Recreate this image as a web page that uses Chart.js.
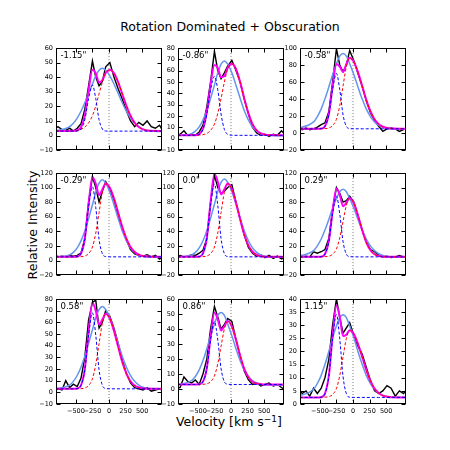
<!DOCTYPE html>
<html lang="en">
<head>
  <meta charset="UTF-8" />
  <title>Rotation Dominated + Obscuration</title>
  <script src="https://cdn.jsdelivr.net/npm/chart.js"></script>
  <style>
    body { margin: 0; background: #fff; font-family: 'DejaVu Sans', sans-serif; color: #000; }
    #fig { position: relative; width: 450px; height: 450px; overflow: hidden; }
    .panel { position: absolute; }
    .title { position: absolute; left: 0; top: 21px; width: 460px; text-align: center; font-size: 12.5px; line-height: 1; }
    .xlabel { position: absolute; left: 0; top: 416px; width: 458px; text-align: center; font-size: 12.5px; line-height: 1; }
    .xlabel span { position: relative; top: -4px; font-size: 9px; }
    .ylabel { position: absolute; left: -67px; top: 218px; width: 200px; height: 14px; line-height: 14px; text-align: center; font-size: 12.5px; transform: rotate(-90deg); }
  </style>
</head>
<body>
  <div id="fig">
    <div class="title">Rotation Dominated + Obscuration</div>
    <div class="ylabel">Relative Intensity</div>
    <div class="xlabel">Velocity [km s<span>&minus;1</span>]</div>
  </div>

  <script>
    // velocity sampling of the model curves and of the observed spectra (km/s)
    const velocityGrid = [-883, -595, -538, -480, -423, -365, -308, -250, -200, -150, -100, -50, 13, 75, 138, 200, 263, 325, 388, 450, 513, 575, 1013];
    const obsVelocity = [-883, -825, -768, -710, -653, -595, -538, -480, -423, -365, -308, -250, -200, -150, -100, -50, 13,
                         75, 138, 200, 263, 325, 388, 450, 513, 575, 638, 700, 763, 825, 888, 950, 1013];

    const panelLabels = ['-1.15"', '-0.86"', '-0.58"', '-0.29"', '0.0"', '0.29"', '0.58"', '0.86"', '1.15"'];
    const yMin  = [-10, -10, -20, -20, -20, -20, -10, -10, 0];
    const yMax  = [60, 80, 100, 120, 120, 120, 80, 60, 40];
    const yStep = [10, 10, 20, 20, 20, 20, 10, 10, 5];
    const xTicks = [-500, -250, 0, 250, 500];

    // observed spectra (black)
    const observed = [
      [3, 5, 6, 4, 3.5, 5, 3, 5, 8, 18, 34, 51, 40, 34, 37, 47, 50, 40, 32, 25, 17, 10, 6, 9, 7, 10, 6, 5, 7, 2, 6, 0, 4],
      [3, 2, 4, 7, 3, 4, 3, 6, 12, 28, 50, 77, 60, 53, 58, 64, 69, 60, 50, 35, 22, 10, 5, 3, 4, 2, 4, 3, 7, 3, 4, 2, 3],
      [8, 6, 4, 6, 4, 5, 7, 10, 12, 25, 60, 99, 80, 72, 80, 97, 85, 70, 55, 38, 24, 15, 8, 2, 5, 6, 5, 2, 4, 6, -2, 10, 5],
      [6, 8, 5, 6, 5, 7, 6, 7, 10, 30, 80, 115, 100, 80, 95, 108, 98, 83, 62, 45, 28, 15, 9, 7, 6, 8, 5, 7, 2, 6, 4, 7, 5],
      [4, 5, 7, 5, 6, 8, 7, 10, 14, 30, 80, 117, 100, 92, 95, 100, 104, 80, 57, 35, 18, 10, 6, 8, 4, 7, 3, 6, 2, 5, 3, 5, 4],
      [0, 3, 5, 6, 5, 12, 10, 12, 15, 30, 70, 100, 92, 80, 82, 88, 80, 62, 42, 26, 15, 12, 7, 5, 6, 4, 5, 7, 5, 3, 6, 5, 4],
      [3, 1, 3, 2, 10, 4, 7, 5, 12, 30, 62, 77, 79, 55, 60, 70, 65, 55, 42, 28, 16, 8, 4, 3, 2, 4, 1, 2, 3, 1, 5, 2, 1],
      [2, 0, 1, 8, 5, 4, 6, 3, 10, 20, 40, 55, 48, 40, 43, 47, 45, 33, 22, 12, 6, 3, 4, 2, 3, 4, 2, 3, 1, -1, 2, 3, 3],
      [3, 6, 4, 5, 3, 6, 4, 6, 10, 17, 30, 40, 33, 27, 29, 31, 26, 22, 19, 14, 9, 5, 4, 5, 7, 6, 3, 5, 4, 6, 3, 4, 2]
    ];

    // two-component fit (magenta)
    const twoComponentFit = [
      [3, 3.1, 3.2, 3.6, 5.6, 13.6, 31, 45, 42.6, 36.3, 38, 42.8, 45, 42.7, 36.6, 28.5, 20.3, 13.5, 8.7, 5.8, 4.2, 3.5, 3],
      [3, 3, 3.1, 4.1, 8.8, 23.4, 47.7, 64.9, 62.6, 54.1, 55.1, 62.4, 66.1, 61.5, 49.9, 35.4, 22.3, 12.9, 7.4, 4.7, 3.6, 3.2, 3],
      [5, 5, 5, 5.3, 8.1, 22.1, 54.7, 81.2, 78, 71.6, 81.1, 88.3, 83.5, 71.5, 55.4, 39.1, 25.7, 16.2, 10.5, 7.4, 5.9, 5.3, 5],
      [5, 5, 5, 5.4, 9.4, 30, 77.3, 114.5, 105.4, 89.6, 97.4, 105.4, 99.6, 85.1, 65.7, 46.1, 29.9, 18.5, 11.6, 7.9, 6.1, 5.4, 5],
      [5, 5, 5, 5.4, 9.6, 31, 80.1, 118.5, 108.2, 90.6, 97.6, 105.4, 97.9, 79.4, 56.4, 35.6, 20.7, 12, 7.7, 5.9, 5.3, 5.1, 5],
      [5, 5, 5, 5.3, 8.9, 26.6, 67.2, 98.8, 89.7, 74.3, 79.3, 85.3, 78.4, 61.6, 41.6, 24.9, 14.1, 8.5, 6.1, 5.3, 5, 5, 5],
      [3, 3, 3, 3.3, 6, 19.9, 51.8, 76.6, 69.8, 58, 62.3, 67.3, 63, 52.6, 39, 26, 16, 9.5, 5.8, 4.1, 3.4, 3.1, 3],
      [3, 3, 3, 3.2, 4.9, 14, 34.5, 50.7, 46.4, 39, 41.8, 45.2, 41.5, 32.7, 22.2, 13.5, 7.8, 4.8, 3.6, 3.2, 3, 3, 3],
      [2.5, 2.5, 2.5, 2.6, 4, 10.7, 25.9, 37.5, 33.1, 25.9, 26.4, 28.1, 26.6, 22.9, 18, 13, 8.8, 5.9, 4.2, 3.2, 2.8, 2.6, 2.5]
    ];

    // single-component fit (light blue)
    const oneComponentFit = [
      [2.6, 6, 8.4, 11.9, 16.6, 22.4, 28.9, 35.3, 40.9, 44.7, 46, 44.7, 40.9, 35.3, 28.9, 22.4, 16.6, 11.9, 8.4, 6, 4.4, 3.5, 2.5],
      [2.5, 4.5, 6.7, 10.4, 16.4, 24.9, 35.6, 47.2, 58, 65.7, 68.5, 65.7, 58, 47.2, 35.6, 24.9, 16.4, 10.4, 6.7, 4.5, 3.4, 2.8, 2.5],
      [4.7, 13.1, 19.4, 28.4, 40.2, 54.1, 68.6, 81.4, 90.3, 93.5, 90.3, 81.4, 68.6, 54.1, 40.2, 28.4, 19.4, 13.1, 9.1, 6.8, 5.6, 4.9, 4.5],
      [4.5, 7.7, 11.2, 17.2, 26.9, 40.4, 57.6, 76.4, 93.6, 106, 110.5, 106, 93.6, 76.4, 57.6, 40.4, 26.9, 17.2, 11.2, 7.7, 5.9, 5, 4.5],
      [4.5, 7.7, 11.2, 17.3, 27.1, 40.8, 58.1, 77, 94.5, 107, 111.5, 107, 94.5, 77, 58.1, 40.8, 27.1, 17.3, 11.2, 7.7, 5.9, 5, 4.5],
      [4.7, 13.5, 20, 29.4, 41.8, 56.3, 71.5, 84.9, 94.2, 97.5, 94.2, 84.9, 71.5, 56.3, 41.8, 29.4, 20, 13.5, 9.3, 6.9, 5.6, 5, 4.5],
      [2.5, 6.2, 9.4, 14.4, 21.5, 31, 42, 53.6, 63.8, 70.9, 73.5, 70.9, 63.8, 53.6, 42, 31, 21.5, 14.4, 9.4, 6.2, 4.3, 3.4, 2.5],
      [2.5, 5.6, 8.3, 12.7, 18.9, 26.8, 35.4, 43.3, 49, 51, 49, 43.3, 35.4, 26.8, 18.9, 12.7, 8.3, 5.6, 4, 3.1, 2.7, 2.6, 2.5],
      [2.6, 5.6, 7.8, 10.9, 15.1, 20, 25.2, 29.7, 32.9, 34, 32.9, 29.7, 25.2, 20, 15.1, 10.9, 7.8, 5.6, 4.1, 3.3, 2.9, 2.7, 2.5]
    ];

    // redshifted component (red dashed)
    const redComponent = [
      [3, 3.1, 3.2, 3.5, 4.2, 5.8, 8.7, 13.5, 20.3, 28.5, 36.6, 42.7, 45, 42.7, 36.6, 28.5, 20.3, 13.5, 8.7, 5.8, 4.2, 3.5, 3],
      [3, 3, 3, 3.2, 3.6, 4.7, 7.4, 12.9, 22.3, 35.4, 49.9, 61.5, 66, 61.5, 49.9, 35.4, 22.3, 12.9, 7.4, 4.7, 3.6, 3.2, 3],
      [5, 5, 5, 5, 5.2, 5.9, 8.7, 16.2, 32, 55.4, 78.2, 88, 83.5, 71.5, 55.4, 39.1, 25.7, 16.2, 10.5, 7.4, 5.9, 5.3, 5],
      [5, 5, 5, 5, 5.2, 6.1, 9.4, 18.5, 37.5, 65.7, 93.2, 105, 99.6, 85.1, 65.7, 46.1, 29.9, 18.5, 11.6, 7.9, 6.1, 5.4, 5],
      [5, 5, 5, 5, 5.2, 6.1, 9.4, 18.5, 37.5, 65.7, 93.2, 105, 97.9, 79.4, 56.4, 35.6, 20.7, 12, 7.7, 5.9, 5.3, 5.1, 5],
      [5, 5, 5, 5, 5.2, 5.9, 8.5, 15.8, 31, 53.6, 75.6, 85, 78.4, 61.6, 41.6, 24.9, 14.1, 8.5, 6.1, 5.3, 5, 5, 5],
      [3, 3, 3, 3, 3.1, 3.7, 5.8, 11.6, 23.8, 41.8, 59.4, 67, 63, 52.6, 39, 26, 16, 9.5, 5.8, 4.1, 3.4, 3.1, 3],
      [3, 3, 3, 3, 3.1, 3.5, 4.8, 8.7, 16.7, 28.5, 40, 45, 41.5, 32.7, 22.2, 13.5, 7.8, 4.8, 3.6, 3.2, 3, 3, 3],
      [2.5, 2.5, 2.5, 2.5, 2.6, 2.8, 3.6, 5.9, 10.8, 18, 25, 28, 26.6, 22.9, 18, 13, 8.8, 5.9, 4.2, 3.2, 2.8, 2.6, 2.5]
    ];

    // blueshifted component (blue dashed)
    const blueComponent = [
      [3, 3, 3, 3.1, 4.4, 10.8, 25.3, 34.5, 25.3, 10.8, 4.4, 3.1, 3, 3, 3, 3, 3, 3, 3, 3, 3, 3, 3],
      [3, 3, 3.1, 3.9, 8.2, 21.7, 43.3, 55, 43.3, 21.7, 8.2, 3.9, 3.1, 3, 3, 3, 3, 3, 3, 3, 3, 3, 3],
      [5, 5, 5, 5.3, 7.9, 21.2, 51, 70, 51, 21.2, 7.9, 5.3, 5, 5, 5, 5, 5, 5, 5, 5, 5, 5, 5],
      [5, 5, 5, 5.4, 9.2, 28.9, 72.9, 101, 72.9, 28.9, 9.2, 5.4, 5, 5, 5, 5, 5, 5, 5, 5, 5, 5, 5],
      [5, 5, 5, 5.4, 9.4, 29.9, 75.7, 105, 75.7, 29.9, 9.4, 5.4, 5, 5, 5, 5, 5, 5, 5, 5, 5, 5, 5],
      [5, 5, 5, 5.3, 8.7, 25.7, 63.7, 88, 63.7, 25.7, 8.7, 5.3, 5, 5, 5, 5, 5, 5, 5, 5, 5, 5, 5],
      [3, 3, 3, 3.3, 5.9, 19.2, 49, 68, 49, 19.2, 5.9, 3.3, 3, 3, 3, 3, 3, 3, 3, 3, 3, 3, 3],
      [3, 3, 3, 3.2, 4.8, 13.5, 32.7, 45, 32.7, 13.5, 4.8, 3.2, 3, 3, 3, 3, 3, 3, 3, 3, 3, 3, 3],
      [2.5, 2.5, 2.5, 2.6, 3.9, 10.4, 24.8, 34.1, 24.8, 10.4, 3.9, 2.6, 2.5, 2.5, 2.5, 2.5, 2.5, 2.5, 2.5, 2.5, 2.5, 2.5, 2.5]
    ];

    // panel geometry (plot area of each subplot)
    const colLeft = [56, 178, 300];
    const rowTop = [45, 170, 296];
    const plotW = 106, plotH = 108;
    const AXIS_W = 28, PAD = 4;

    const tickFont = { family: 'DejaVu Sans', size: 6.5 };
    const fmt = v => String(v).replace('-', '\u2212');
    const pts = (xs, ys) => ys.map((y, i) => ({ x: xs[i], y }));

    // frame, inward ticks and the offset label in the corner
    const framePlugin = {
      id: 'frame',
      afterDatasetsDraw(chart, args, opts) {
        const { ctx, chartArea: a, scales: { x, y } } = chart;
        const L = Math.round(a.left) + 0.5, R = Math.round(a.right) - 0.5;
        const T = Math.round(a.top) + 0.5, B = Math.round(a.bottom) - 0.5;
        ctx.save();
        ctx.strokeStyle = '#000';
        ctx.lineWidth = 1;
        ctx.beginPath();
        y.ticks.forEach(t => {
          const py = Math.round(y.getPixelForValue(t.value)) + 0.5;
          ctx.moveTo(L, py); ctx.lineTo(L + 4, py);
          ctx.moveTo(R, py); ctx.lineTo(R - 4, py);
        });
        x.ticks.forEach(t => {
          const px = Math.round(x.getPixelForValue(t.value)) + 0.5;
          ctx.moveTo(px, B); ctx.lineTo(px, B - 4);
          ctx.moveTo(px, T); ctx.lineTo(px, T + 4);
        });
        ctx.stroke();
        ctx.strokeRect(L, T, R - L, B - T);
        ctx.fillStyle = '#000';
        ctx.font = '8.5px "DejaVu Sans"';
        ctx.textBaseline = 'top';
        ctx.fillText(opts.label, L + 4, T + 3);
        ctx.restore();
      }
    };

    const fig = document.getElementById('fig');

    for (let i = 0; i < 9; i++) {
      const r = Math.floor(i / 3), c = i % 3;
      const bottomSpace = r === 2 ? 14 : 4;
      const w = plotW + AXIS_W + PAD, h = plotH + PAD + bottomSpace;

      const box = document.createElement('div');
      box.className = 'panel';
      box.style.left = (colLeft[c] - AXIS_W) + 'px';
      box.style.top = (rowTop[r] - PAD) + 'px';
      const canvas = document.createElement('canvas');
      canvas.width = w; canvas.height = h;
      canvas.style.width = w + 'px'; canvas.style.height = h + 'px';
      box.appendChild(canvas);
      fig.appendChild(box);

      new Chart(canvas, {
        type: 'line',
        data: {
          datasets: [
            { data: [{ x: 0, y: yMin[i] }, { x: 0, y: yMax[i] }], borderColor: '#555', borderWidth: 0.8, borderDash: [1, 2], pointRadius: 0, order: 6 },
            { data: pts(obsVelocity, observed[i]), borderColor: '#000', borderWidth: 1.4, pointRadius: 0, order: 5 },
            { data: pts(velocityGrid, oneComponentFit[i]), borderColor: '#6495ed', borderWidth: 1.5, pointRadius: 0, cubicInterpolationMode: 'monotone', order: 4 },
            { data: pts(velocityGrid, twoComponentFit[i]), borderColor: '#ff00ff', borderWidth: 2, pointRadius: 0, cubicInterpolationMode: 'monotone', order: 3 },
            { data: pts(velocityGrid, redComponent[i]), borderColor: '#ff0000', borderWidth: 1, borderDash: [3, 2], pointRadius: 0, cubicInterpolationMode: 'monotone', order: 2 },
            { data: pts(velocityGrid, blueComponent[i]), borderColor: '#0000ff', borderWidth: 1, borderDash: [3, 2], pointRadius: 0, cubicInterpolationMode: 'monotone', order: 1 }
          ]
        },
        options: {
          responsive: false,
          animation: false,
          devicePixelRatio: 1,
          events: [],
          layout: { padding: { top: PAD, right: PAD, left: 0, bottom: 0 } },
          plugins: { legend: { display: false }, tooltip: { enabled: false }, frame: { label: panelLabels[i] } },
          scales: {
            x: {
              type: 'linear', min: -800, max: 800,
              afterBuildTicks: s => { s.ticks = xTicks.map(v => ({ value: v })); },
              afterFit: s => { s.height = bottomSpace; },
              grid: { display: false, drawTicks: false },
              border: { display: false },
              ticks: { display: r === 2, font: tickFont, color: '#000', padding: 3, maxRotation: 0, autoSkip: false, callback: fmt }
            },
            y: {
              min: yMin[i], max: yMax[i],
              ticks: { stepSize: yStep[i], font: tickFont, color: '#000', padding: 3, callback: fmt },
              afterFit: s => { s.width = AXIS_W; },
              grid: { display: false, drawTicks: false },
              border: { display: false }
            }
          }
        },
        plugins: [framePlugin]
      });
    }
  </script>
</body>
</html>
